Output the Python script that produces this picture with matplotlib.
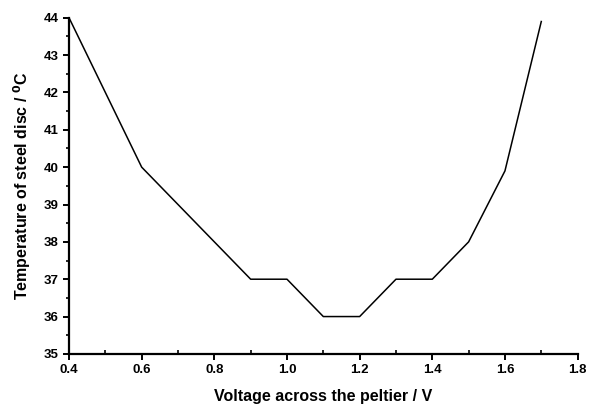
import matplotlib
matplotlib.use("Agg")
import matplotlib.pyplot as plt
from matplotlib.ticker import MultipleLocator

# voltage across the peltier (V) and disc temperature (deg C)
voltage = [0.4, 0.6, 0.7, 0.9, 1.0, 1.1, 1.2, 1.3, 1.4, 1.5, 1.6, 1.7]
temperature = [44.0, 40.0, 39.0, 37.0, 37.0, 36.0, 36.0, 37.0, 37.0, 38.0, 39.9, 43.9]

plt.rcParams['font.family'] = ['Liberation Sans', 'DejaVu Sans']

fig = plt.figure(figsize=(5.9, 4.04), dpi=100)
ax = fig.add_axes([0.117, 0.124, 0.862, 0.832])

ax.plot(voltage, temperature, color='black', linewidth=1.1)

ax.set_xlim(0.4, 1.8)
ax.set_ylim(35, 44)
ax.xaxis.set_major_locator(MultipleLocator(0.2))
ax.xaxis.set_minor_locator(MultipleLocator(0.1))
ax.yaxis.set_major_locator(MultipleLocator(1))
ax.yaxis.set_minor_locator(MultipleLocator(0.5))
ax.xaxis.set_major_formatter(matplotlib.ticker.FormatStrFormatter('%.1f'))

for side in ['top', 'right']:
    ax.spines[side].set_visible(False)
for side in ['left', 'bottom']:
    ax.spines[side].set_linewidth(1.6)

ax.tick_params(which='major', direction='out', length=4, width=1.4,
               labelsize=9.5)
ax.tick_params(axis='x', which='minor', direction='in', length=3, width=1.2)
ax.tick_params(axis='y', which='minor', direction='out', length=2.5, width=1.2)
for lbl in ax.get_xticklabels() + ax.get_yticklabels():
    lbl.set_fontweight('bold')

ax.set_xlabel('Voltage across the peltier / V', fontsize=11.5, fontweight='bold',
              labelpad=9)
ax.set_ylabel('Temperature of steel disc / $\\mathbf{^0}$C', fontsize=11.5,
              fontweight='bold', labelpad=8)

fig.savefig('out.png', dpi=100)
